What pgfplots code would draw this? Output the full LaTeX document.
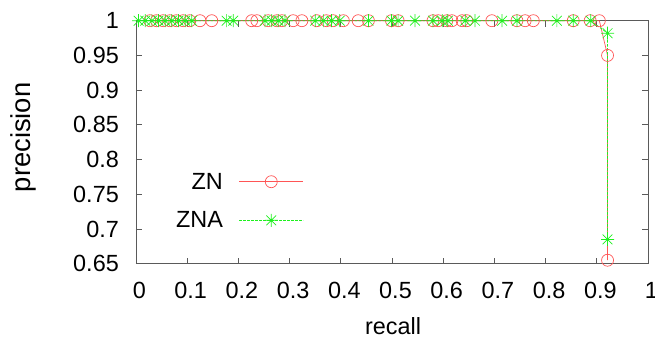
\documentclass[border=0pt]{standalone}
\usepackage{fontspec}
\setmainfont{Liberation Sans}
\usepackage{pgfplots}
\pgfplotsset{compat=1.18}
\definecolor{gpred}{RGB}{255,85,85}
\definecolor{gpgreen}{RGB}{30,240,30}
\definecolor{gpaxis}{RGB}{90,90,90}
\pgfdeclareplotmark{gpstar}{%
 \pgfpathmoveto{\pgfqpoint{-\pgfplotmarksize}{0pt}}\pgfpathlineto{\pgfqpoint{\pgfplotmarksize}{0pt}}%
 \pgfpathmoveto{\pgfqpoint{0pt}{-\pgfplotmarksize}}\pgfpathlineto{\pgfqpoint{0pt}{\pgfplotmarksize}}%
 \pgfpathmoveto{\pgfqpoint{-0.75\pgfplotmarksize}{-0.75\pgfplotmarksize}}\pgfpathlineto{\pgfqpoint{0.75\pgfplotmarksize}{0.75\pgfplotmarksize}}%
 \pgfpathmoveto{\pgfqpoint{-0.75\pgfplotmarksize}{0.75\pgfplotmarksize}}\pgfpathlineto{\pgfqpoint{0.75\pgfplotmarksize}{-0.75\pgfplotmarksize}}%
 \pgfusepathqstroke}
\begin{document}
\begin{tikzpicture}
\begin{axis}[
  at={(0,0)}, anchor=south west,
  scale only axis, width=512bp, height=243bp,
  xmin=0, xmax=1, ymin=0.65, ymax=1,
  xtick={0,0.1,...,1.0}, ytick={0.65,0.7,...,1.0},
  xticklabels={0,0.1,0.2,0.3,0.4,0.5,0.6,0.7,0.8,0.9,1},
  yticklabels={0.65,0.7,0.75,0.8,0.85,0.9,0.95,1},
  clip=false,
  axis line style={gpaxis, line width=0.8bp},
  tick style={gpaxis, line width=0.8bp},
  tick align=inside, major tick length=6bp,
  tick label style={font=\fontsize{23.5}{27}\selectfont},
  yticklabel style={inner sep=0pt, anchor=east, xshift=-17bp},
  xticklabel style={inner sep=0pt, anchor=north, yshift=-18bp, xshift=3.5bp},
  xlabel={recall}, ylabel={precision},
  xlabel style={font=\fontsize{23.5}{27}\selectfont, at={(axis description cs:0.502,-0.292)}, anchor=base, inner sep=0pt},
  ylabel style={font=\fontsize{27.5}{31}\selectfont, at={(axis description cs:-0.22,0.52)}, anchor=center, inner sep=0pt},
  legend plot pos=right, legend cell align=right,
  legend style={draw=none, fill=none, font=\fontsize{23.5}{27}\selectfont,
    at={(axis description cs:0.072,0.258)}, anchor=west,
    row sep=21bp, nodes={inner sep=0pt},
    /tikz/every odd column/.append style={column sep=16bp}},
  legend image code/.code={\draw[mark repeat=2,mark phase=2,#1] plot coordinates {(0bp,0bp) (32bp,0bp) (64bp,0bp)};},
]
\addplot[gpred, line width=0.7bp, mark=o, mark size=6bp, mark options={solid, line width=0.7bp}] coordinates {
(0.027,1)(0.040,1)(0.053,1)(0.066,1)(0.079,1)(0.092,1)(0.105,1)(0.125,1)(0.148,1)
(0.226,1)(0.236,1)(0.258,1)(0.275,1)(0.285,1)(0.307,1)(0.324,1)(0.353,1)(0.372,1)
(0.385,1)(0.405,1)(0.434,1)(0.454,1)(0.499,1)(0.512,1)(0.580,1)(0.590,1)(0.607,1)
(0.617,1)(0.637,1)(0.646,1)(0.695,1)(0.744,1)(0.760,1)(0.776,1)(0.854,1)(0.887,1)
(0.905,1)(0.921,0.95)(0.921,0.655)
};
\addlegendentry{ZN}
\addplot[gpgreen, line width=0.8bp, dash pattern=on 2.5bp off 1.5bp, mark=gpstar, mark size=6.5bp, mark options={solid, line width=0.7bp}] coordinates {
(0.005,1)(0.018,1)(0.031,1)(0.044,1)(0.057,1)(0.070,1)(0.083,1)(0.096,1)(0.109,1)
(0.177,1)(0.190,1)(0.252,1)(0.265,1)(0.278,1)(0.291,1)(0.350,1)(0.366,1)(0.382,1)
(0.398,1)(0.454,1)(0.499,1)(0.512,1)(0.545,1)(0.580,1)(0.598,1)(0.609,1)(0.643,1)
(0.662,1)(0.715,1)(0.744,1)(0.822,1)(0.854,1)(0.888,1)(0.921,0.982)(0.921,0.685)
};
\addlegendentry{ZNA}
\end{axis}
\pgfresetboundingbox
\path[use as bounding box] ([xshift=-136bp,yshift=-72.4bp]current axis.south west) rectangle ([xshift=7bp,yshift=20.7bp]current axis.north east);
\end{tikzpicture}
\end{document}
